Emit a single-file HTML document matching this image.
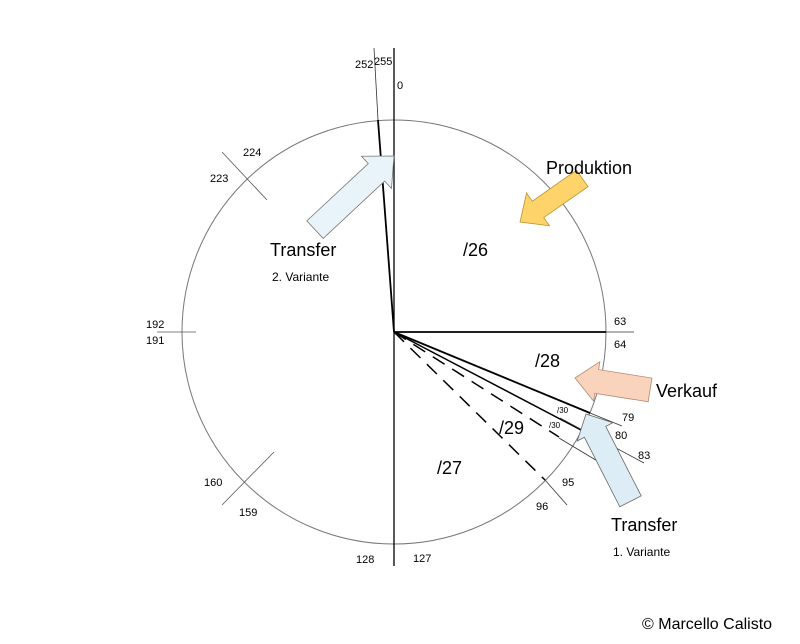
<!DOCTYPE html>
<html><head><meta charset="utf-8"><style>
html,body{margin:0;padding:0;background:#fff;}
svg{display:block;font-family:"Liberation Sans",sans-serif;}
</style></head><body>
<svg width="800" height="644" viewBox="0 0 800 644">
<circle cx="394" cy="332" r="212" fill="none" stroke="#777" stroke-width="1"/>
<line x1="394" y1="48" x2="394" y2="566" stroke="#000" stroke-width="1.3"/>
<line x1="374" y1="48" x2="378" y2="120" stroke="#333" stroke-width="0.8"/>
<line x1="378" y1="120" x2="394" y2="332" stroke="#000" stroke-width="1.8"/>
<line x1="394" y1="332" x2="606" y2="332" stroke="#000" stroke-width="1.8"/>
<line x1="606" y1="332" x2="634" y2="332" stroke="#333" stroke-width="0.8"/>
<line x1="394" y1="332" x2="590" y2="413" stroke="#000" stroke-width="1.8"/>
<line x1="590" y1="413" x2="622" y2="426" stroke="#333" stroke-width="0.8"/>
<line x1="394" y1="332" x2="581" y2="430" stroke="#000" stroke-width="1.5"/>
<line x1="560" y1="418" x2="644" y2="463" stroke="#333" stroke-width="0.8"/>
<line x1="559" y1="438" x2="624" y2="477" stroke="#333" stroke-width="0.8"/>
<line x1="394" y1="332" x2="559" y2="437" stroke="#000" stroke-width="1.5" stroke-dasharray="14,9"/>
<line x1="394" y1="332" x2="545" y2="480" stroke="#000" stroke-width="1.5" stroke-dasharray="14,9"/>
<line x1="545" y1="480" x2="567" y2="505" stroke="#333" stroke-width="0.8"/>
<line x1="157" y1="332" x2="196" y2="332" stroke="#555" stroke-width="0.8"/>
<line x1="222" y1="152" x2="267" y2="200" stroke="#555" stroke-width="0.8"/>
<line x1="222" y1="505" x2="274" y2="452" stroke="#555" stroke-width="0.8"/>
<g transform="translate(520,222) rotate(-35)">
<polygon points="0,0 22,-20 22,-10 76,-10 76,10 22,10 22,20" fill="#fdd36a" stroke="#b89530" stroke-width="0.8"/>
</g>
<g transform="translate(394,156) rotate(-43)">
<polygon points="0,0 -24,-22 -24,-12 -108,-12 -108,12 -24,12 -24,22" fill="#e8f4f9" stroke="#777" stroke-width="0.8"/>
</g>
<g transform="translate(575,378) rotate(-171)">
<polygon points="0,0 -22,-20 -22,-12 -76,-12 -76,12 -22,12 -22,20" fill="#f9d3bb" stroke="#b58a70" stroke-width="0.8"/>
</g>
<g transform="translate(586,414) rotate(63)">
<polygon points="0,0 20,-20 20,-12 98,-12 98,12 20,12 20,20" fill="#dcedf6" stroke="#666" stroke-width="0.8"/>
</g>
<g font-size="11" fill="#000">
<text x="355" y="68">252</text><text x="374" y="65">255</text><text x="397" y="89">0</text>
<text x="614" y="325">63</text><text x="614" y="348">64</text>
<text x="622" y="421">79</text><text x="615" y="439">80</text><text x="638" y="459">83</text>
<text x="562" y="486">95</text><text x="536" y="510">96</text>
<text x="356" y="563">128</text><text x="413" y="562">127</text>
<text x="204" y="486">160</text><text x="239" y="516">159</text>
<text x="146" y="328">192</text><text x="146" y="344">191</text>
<text x="210" y="182">223</text><text x="243" y="156">224</text>
<text x="557" y="413" font-size="8">/30</text><text x="549" y="428" font-size="8">/30</text>
</g>
<g font-size="18" fill="#000">
<text x="546" y="174">Produktion</text>
<text x="463" y="256">/26</text>
<text x="270" y="256">Transfer</text>
<text x="272" y="281" font-size="12">2. Variante</text>
<text x="535" y="367">/28</text>
<text x="656" y="397">Verkauf</text>
<text x="499" y="434">/29</text>
<text x="437" y="474">/27</text>
<text x="611" y="531">Transfer</text>
<text x="613" y="556" font-size="12">1. Variante</text>
<text x="642" y="629" font-size="16">© Marcello Calisto</text>
</g>
</svg>
</body></html>
